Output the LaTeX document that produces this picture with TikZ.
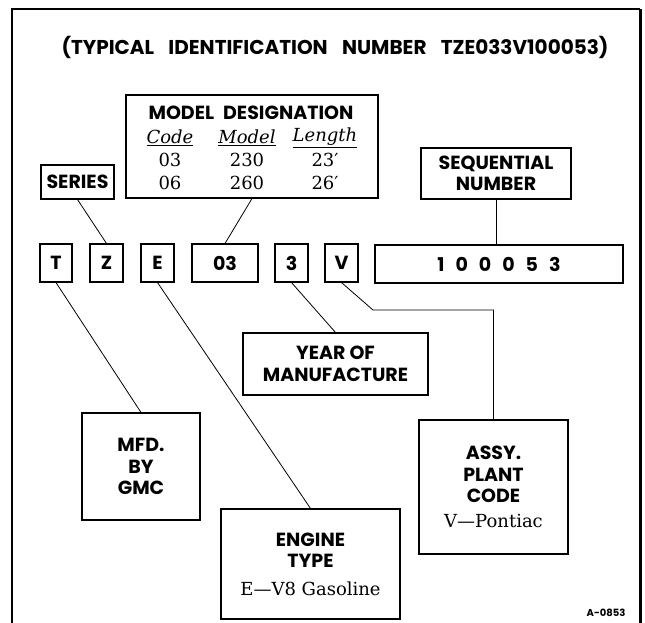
\documentclass[tikz,border=0pt]{standalone}
\usepackage{fontspec}
\newfontfamily\gmsans{Poppins}
\newfontfamily\gmserif{DejaVu Serif}
\usetikzlibrary{positioning}
\tikzset{
  tag/.style={draw, line width=1.1pt, inner sep=0pt, align=center,
    font=\gmsans\bfseries\fontsize{19}{21.5}\selectfont},
  serif/.style={inner sep=0pt, font=\gmserif\fontsize{18}{20}\selectfont},
  link/.style={line width=0.8pt},
}

\begin{document}
\begin{tikzpicture}[x=1pt, y=-1pt]
  \useasboundingbox (0,0) rectangle (645,623);
  \draw[line width=1.5pt] (12,623) -- (12,9) -- (640,9);
  \draw[line width=3pt] (640,9) -- (640,623);
  \node[font=\gmsans\bfseries\fontsize{20}{20}\selectfont] (title) at (335,47)
    {(TYPICAL\hspace{10pt} IDENTIFICATION\hspace{10pt} NUMBER\hspace{10pt} TZE033V100053)};

  \node[tag, minimum width=252pt, minimum height=103pt] (model) at (252,146.5) {};
  \node[font=\gmsans\bfseries\fontsize{19}{20}\selectfont] (modelttl) at (251,113)
    {MODEL\hspace{5pt} DESIGNATION};
  \node[serif] (hcode) at (170,138) {\underline{\textit{Code}}};
  \node[serif] (hmodel) at (247,138) {\underline{\textit{Model}}};
  \node[serif] (hlength) at (325,138) {\underline{\textit{Length}}};
  \node[serif] (code1) at (170,160) {03};
  \node[serif] (model1) at (247,160) {230};
  \node[serif] (length1) at (325,160) {23′};
  \node[serif] (code2) at (170,183) {06};
  \node[serif] (model2) at (247,183) {260};
  \node[serif] (length2) at (325,183) {26′};

  \node[tag, minimum width=73pt, minimum height=34pt] (series) at (77.5,182) {SERIES};
  \node[tag, minimum width=150pt, minimum height=51pt] (seq) at (496,173.5) {SEQUENTIAL\\NUMBER};

  \node[tag, minimum width=32pt, minimum height=38pt] (T) at (56,263) {T};
  \node[tag, minimum width=33pt, minimum height=38pt] (Z) at (106.5,263) {Z};
  \node[tag, minimum width=33pt, minimum height=38pt] (E) at (157.5,263) {E};
  \node[tag, minimum width=66pt, minimum height=38pt] (mcode) at (225,263) {03};
  \node[tag, minimum width=33pt, minimum height=38pt] (yr) at (291.5,263) {3};
  \node[tag, minimum width=33pt, minimum height=38pt] (V) at (341.5,263) {V};
  \node[tag, minimum width=248pt, minimum height=38pt] (serial) at (499,264)
    {1\hspace{11pt}0\hspace{11pt}0\hspace{11pt}0\hspace{11pt}5\hspace{11pt}3};

  \node[tag, minimum width=185pt, minimum height=62pt] (year) at (335.5,364) {YEAR OF\\MANUFACTURE};
  \node[tag, minimum width=118pt, minimum height=107pt] (mfd) at (141,466.5) {MFD.\\BY\\GMC};
  \node[tag, minimum width=179pt, minimum height=110pt] (engine) at (310.5,564)
    {ENGINE\\TYPE\\[6pt]{\gmserif\mdseries\fontsize{18}{20}\selectfont E—V8 Gasoline}};
  \node[tag, minimum width=149pt, minimum height=134pt] (assy) at (493.5,487)
    {ASSY.\\PLANT\\CODE\\[3pt]{\gmserif\mdseries\fontsize{18}{20}\selectfont V—Pontiac}};

  \draw[link] (series.south) -- (Z.north);
  \draw[link] (model.south) -- (mcode.north);
  \draw[link] (seq.south) -- (seq.south |- serial.north);
  \draw[link] (T.south) -- (mfd.north);
  \draw[link] (E.south) -- (engine.north);
  \draw[link] (yr.south) -- (year.north);
  \coordinate (vbend) at (373,310);
  \draw[link] (V.south) -- (vbend) -| (assy.north);

  \node[font=\gmsans\bfseries\fontsize{10}{10}\selectfont] (fig) at (606,613) {A-0853};
\end{tikzpicture}
\end{document}
